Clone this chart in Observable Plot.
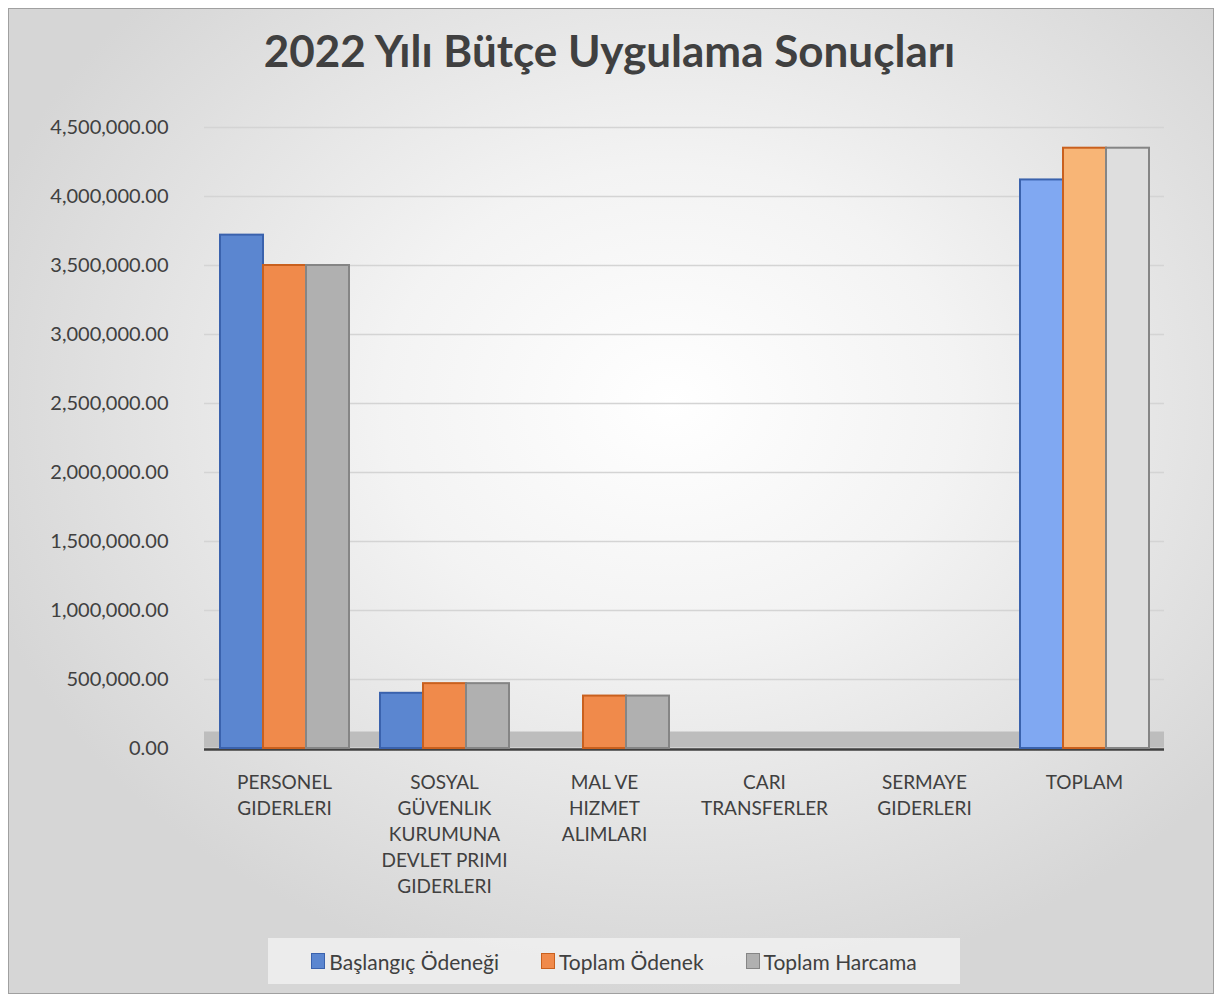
<!DOCTYPE html>
<html>
<head>
<meta charset="utf-8">
<script src="https://cdn.jsdelivr.net/npm/d3@7"></script>
<script src="https://cdn.jsdelivr.net/npm/@observablehq/plot@0.6"></script>
<style>
  html, body { margin: 0; padding: 0; background: #fff; }
  body { width: 1219px; height: 999px; position: relative; overflow: hidden; font-family: Lato, "Open Sans", sans-serif; }
  #frame {
    position: absolute; left: 8px; top: 8px; width: 1204px; height: 984px;
    border: 1px solid #a0a0a0;
    background: radial-gradient(ellipse 60% 60% at 55% 40%, #ffffff 0%, #f3f3f3 40%, #d6d6d6 100%);
  }
  #title {
    position: absolute; left: 0; width: 1219px; top: 24px; text-align: center;
    font-size: 44px; font-weight: bold; color: #404040;
  }
  #chart { position: absolute; left: 8px; top: 107px; }
  #legend {
    position: absolute; left: 268px; top: 938px; width: 692px; height: 46px;
    background: rgba(240,240,240,0.85);
    display: flex; align-items: center; justify-content: center; gap: 42px;
    font-size: 21px; color: #404040;
  }
  .item { display: flex; align-items: center; gap: 4px; }
  .sw { width: 12px; height: 14px; border: 1.5px solid; }
</style>
</head>
<body>
<div id="frame"></div>
<div id="title">2022 Yılı Bütçe Uygulama Sonuçları</div>
<div id="chart"></div>
<div id="legend"></div>
<script>
const categories = ["PERSONEL GIDERLERI", "SOSYAL GÜVENLIK KURUMUNA DEVLET PRIMI GIDERLERI", "MAL VE HIZMET ALIMLARI", "CARI TRANSFERLER", "SERMAYE GIDERLERI", "TOPLAM"];
const categoryLabels = ["PERSONEL\nGIDERLERI", "SOSYAL\nGÜVENLIK\nKURUMUNA\nDEVLET PRIMI\nGIDERLERI", "MAL VE\nHIZMET\nALIMLARI", "CARI\nTRANSFERLER", "SERMAYE\nGIDERLERI", "TOPLAM"];
const series = ["Başlangıç Ödeneği", "Toplam Ödenek", "Toplam Harcama"];
const baslangicOdenegi = [3720000, 400000, 0, 0, 0, 4120000];
const toplamOdenek     = [3500000, 470000, 380000, 0, 0, 4350000];
const toplamHarcama    = [3500000, 470000, 380000, 0, 0, 4350000];
const yTicks = [0, 500000, 1000000, 1500000, 2000000, 2500000, 3000000, 3500000, 4000000, 4500000];

const fills = {"Başlangıç Ödeneği": "#5b86d0", "Toplam Ödenek": "#f08a4b", "Toplam Harcama": "#b0b0b0"};
const lightFills = {"Başlangıç Ödeneği": "#80a8f2", "Toplam Ödenek": "#f8b576", "Toplam Harcama": "#dedede"};
const strokes = {"Başlangıç Ödeneği": "#3a62ad", "Toplam Ödenek": "#c9601e", "Toplam Harcama": "#858585"};

const valuesBySeries = [baslangicOdenegi, toplamOdenek, toplamHarcama];
const data = [];
categories.forEach((c, i) => series.forEach((s, j) => {
  data.push({category: c, series: s, value: valuesBySeries[j][i]});
}));
const labelOf = new Map(categories.map((c, i) => [c, categoryLabels[i]]));

const chart = Plot.plot({
  width: 1190,
  height: 811,
  marginTop: 20,
  marginBottom: 170,
  marginLeft: 196,
  marginRight: 34,
  style: {fontFamily: "Lato, 'Open Sans', sans-serif", color: "#404040", background: "transparent", overflow: "visible"},
  fx: {domain: categories, padding: 0, label: null},
  x: {domain: series, paddingInner: 0, paddingOuter: 0.33, axis: null},
  y: {domain: [0, 4500000], label: null},
  marks: [
    Plot.gridY(yTicks, {stroke: "#d4d4d4", strokeOpacity: 1, strokeWidth: 1.5}),
    Plot.ruleY([0], {stroke: "#bdbdbd", strokeWidth: 16, dy: -9}),
    Plot.ruleY([0], {stroke: "#404040", strokeWidth: 2.5, dy: 1}),
    Plot.barY(data, {
      fx: "category", x: "series", y: "value",
      fill: d => d.category === "TOPLAM" ? lightFills[d.series] : fills[d.series],
      stroke: d => strokes[d.series],
      strokeOpacity: d => d.value > 0 ? 1 : 0,
      strokeWidth: 2
    }),
    Plot.axisY(yTicks, {tickSize: 0, tickPadding: 36, fontSize: 20, tickFormat: d3.format(",.2f"), fill: "#404040"}),
    Plot.axisFx({anchor: "bottom", tickSize: 0, tickPadding: 22, fontSize: 19, lineHeight: 1.37, tickFormat: d => labelOf.get(d), fill: "#404040", label: null})
  ]
});
document.getElementById("chart").appendChild(chart);

const legend = document.getElementById("legend");
series.forEach(s => {
  const it = document.createElement("div");
  it.className = "item";
  const sw = document.createElement("span");
  sw.className = "sw";
  sw.style.background = fills[s];
  sw.style.borderColor = strokes[s];
  const t = document.createElement("span");
  t.textContent = s;
  it.appendChild(sw); it.appendChild(t);
  legend.appendChild(it);
});
</script>
</body>
</html>
